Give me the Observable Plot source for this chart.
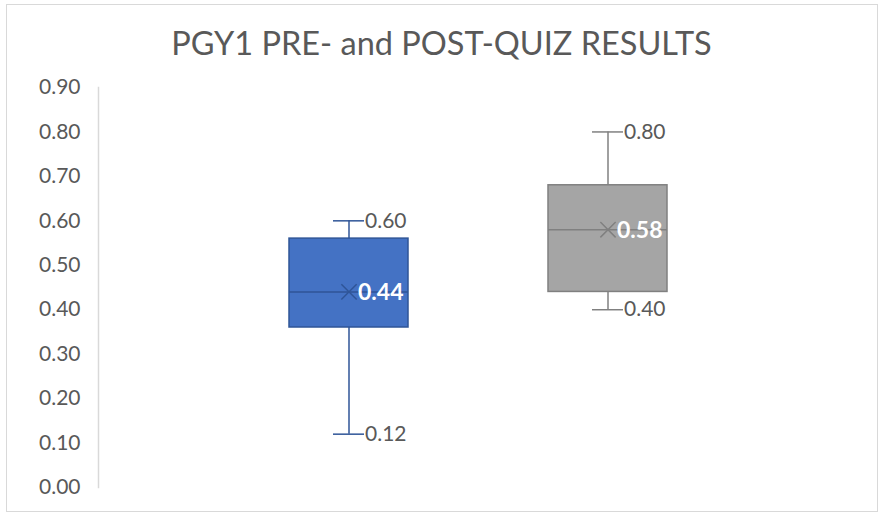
<!DOCTYPE html>
<html>
<head>
<meta charset="utf-8">
<script src="https://cdn.jsdelivr.net/npm/d3@7"></script>
<script src="https://cdn.jsdelivr.net/npm/@observablehq/plot@0.6"></script>
<style>
  html, body { margin: 0; padding: 0; background: #fff; }
  #wrap { position: relative; width: 883px; height: 514px; overflow: hidden; font-family: Lato, "Open Sans", sans-serif; }
  #border { position: absolute; left: 6px; top: 4px; width: 872px; height: 508px; border: 1px solid #d9d9d9; box-sizing: border-box; pointer-events: none; }
  #title { height: 70px; line-height: 86px; text-align: center; font-size: 32.5px; color: #595959; }
  #chart svg { display: block; }
</style>
</head>
<body>
<div id="wrap">
  <div id="border"></div>
  <div id="title">PGY1 PRE- and POST-QUIZ RESULTS</div>
  <div id="chart"></div>
</div>
<script>
const categories = ["PRE", "POST"];
const minValues = [0.12, 0.40];
const q1Values = [0.36, 0.44];
const medianValues = [0.44, 0.58];
const q3Values = [0.56, 0.68];
const maxValues = [0.60, 0.80];
const meanValues = [0.44, 0.58];
const fills = ["#4472C4", "#A5A5A5"];
const strokes = ["#2F5597", "#808080"];
const yTicks = [0, 0.1, 0.2, 0.3, 0.4, 0.5, 0.6, 0.7, 0.8, 0.9];

const data = categories.map((c, i) => ({
  cat: c, min: minValues[i], q1: q1Values[i], median: medianValues[i],
  q3: q3Values[i], max: maxValues[i], mean: meanValues[i],
  fill: fills[i], stroke: strokes[i]
}));

const chart = Plot.plot({
  width: 883,
  height: 444,
  marginLeft: 98,
  marginRight: 25,
  marginTop: 17,
  marginBottom: 27,
  style: { fontFamily: "Lato, 'Open Sans', sans-serif", background: "transparent" },
  x: { domain: categories, paddingInner: 0.542, paddingOuter: 0.733, axis: null },
  y: { domain: [0, 0.9], ticks: yTicks, tickFormat: d3.format(".2f") },
  marks: [
    Plot.axisY({ ticks: yTicks, tickFormat: d3.format(".2f"), tickSize: 0, tickPadding: 18, fontSize: 21, fill: "#595959", label: null }),
    Plot.frame({ anchor: "left", stroke: "#d9d9d9", strokeWidth: 1.5 }),
    Plot.ruleX(data, { x: "cat", y1: "min", y2: "max", stroke: d => d.stroke, strokeWidth: 1.5 }),
    Plot.tickY(data, { x: "cat", y: "max", stroke: d => d.stroke, strokeWidth: 1.5, insetLeft: 44, insetRight: 44 }),
    Plot.tickY(data, { x: "cat", y: "min", stroke: d => d.stroke, strokeWidth: 1.5, insetLeft: 44, insetRight: 44 }),
    Plot.barY(data, { x: "cat", y1: "q1", y2: "q3", fill: d => d.fill, stroke: d => d.stroke, strokeWidth: 1.5 }),
    Plot.tickY(data, { x: "cat", y: "median", stroke: d => d.stroke, strokeWidth: 1.5 }),
    Plot.dot(data, { x: "cat", y: "mean", symbol: "times", r: 7, stroke: d => d.stroke, strokeWidth: 1.5 }),
    Plot.text(data, { x: "cat", y: "mean", text: d => d3.format(".2f")(d.mean), textAnchor: "start", dx: 9, dy: 1, fill: "white", fontWeight: "bold", fontSize: 23 }),
    Plot.text(data, { x: "cat", y: "max", text: d => d3.format(".2f")(d.max), textAnchor: "start", dx: 16, fill: "#595959", fontSize: 21 }),
    Plot.text(data, { x: "cat", y: "min", text: d => d3.format(".2f")(d.min), textAnchor: "start", dx: 16, fill: "#595959", fontSize: 21 })
  ]
});
document.getElementById("chart").appendChild(chart);
</script>
</body>
</html>
